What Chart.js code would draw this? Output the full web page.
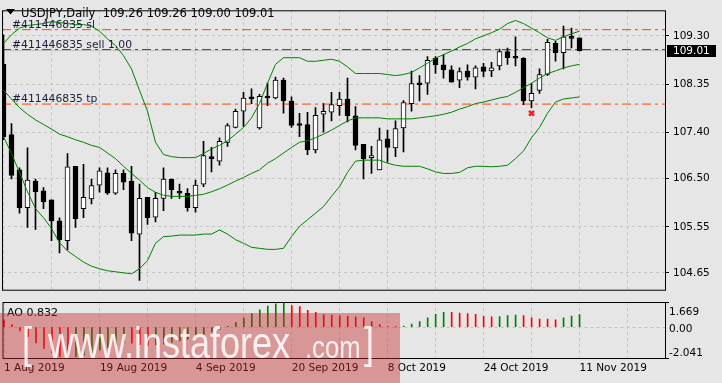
<!DOCTYPE html>
<html>
<head>
<meta charset="utf-8">
<title>USDJPY Daily</title>
<script src="https://cdn.jsdelivr.net/npm/chart.js@4.4.1/dist/chart.umd.min.js"></script>
<style>
    body { margin: 0; width: 722px; height: 383px; overflow: hidden; position: relative; background: #e6e6e6; }
    #priceChart { position: absolute; left: 0; top: 0; }
    #aoChart { position: absolute; left: 0; top: 300px; }
    #mark { position: absolute; left: 0; top: 313px; width: 400px; height: 70px; background: rgba(200, 40, 40, 0.42); color: rgba(255, 255, 255, 0.85); font-family: "Liberation Sans", sans-serif; white-space: nowrap; }
    #mark span { position: absolute; transform: scaleX(0.8); transform-origin: 0 0; }
    #mark .big { font-size: 45px; line-height: 45px; top: 7px; }
    #mark .small { font-size: 32px; line-height: 32px; top: 18px; }
</style>
</head>
<body>
<canvas id="priceChart" width="722" height="300"></canvas>
<canvas id="aoChart" width="722" height="83"></canvas>
<div id="mark"><span class="big" style="left:22px">[</span><span class="big" style="left:48px">www.instaforex</span><span class="small" style="left:305px">.com</span><span class="big" style="left:364px">]</span></div>
<script>
// --- DATA ---

const dates = [
    '1 Aug 2019', '2 Aug 2019', '5 Aug 2019', '6 Aug 2019', '7 Aug 2019', '8 Aug 2019', '9 Aug 2019',
    '12 Aug 2019', '13 Aug 2019', '14 Aug 2019', '15 Aug 2019', '16 Aug 2019', '19 Aug 2019', '20 Aug 2019',
    '21 Aug 2019', '22 Aug 2019', '23 Aug 2019', '26 Aug 2019', '27 Aug 2019', '28 Aug 2019', '29 Aug 2019',
    '30 Aug 2019', '2 Sep 2019', '3 Sep 2019', '4 Sep 2019', '5 Sep 2019', '6 Sep 2019', '9 Sep 2019',
    '10 Sep 2019', '11 Sep 2019', '12 Sep 2019', '13 Sep 2019', '16 Sep 2019', '17 Sep 2019', '18 Sep 2019',
    '19 Sep 2019', '20 Sep 2019', '23 Sep 2019', '24 Sep 2019', '25 Sep 2019', '26 Sep 2019', '27 Sep 2019',
    '30 Sep 2019', '1 Oct 2019', '2 Oct 2019', '3 Oct 2019', '4 Oct 2019', '7 Oct 2019', '8 Oct 2019',
    '9 Oct 2019', '10 Oct 2019', '11 Oct 2019', '14 Oct 2019', '15 Oct 2019', '16 Oct 2019', '17 Oct 2019',
    '18 Oct 2019', '21 Oct 2019', '22 Oct 2019', '23 Oct 2019', '24 Oct 2019', '25 Oct 2019', '28 Oct 2019',
    '29 Oct 2019', '30 Oct 2019', '31 Oct 2019', '1 Nov 2019', '4 Nov 2019', '5 Nov 2019', '6 Nov 2019',
    '7 Nov 2019', '8 Nov 2019', '11 Nov 2019'
]

const opens = [
    108.74, 107.36, 106.67, 105.93, 106.45, 106.26, 106.08, 105.67, 105.28, 106.74,
    105.91, 106.10, 106.37, 106.61, 106.21, 106.60, 106.45, 105.41, 106.13, 105.74,
    106.11, 106.49, 106.24, 106.21, 105.93, 106.39, 106.93, 106.84, 107.21, 107.50,
    107.82, 108.10, 107.49, 108.11, 108.08, 108.43, 108.02, 107.58, 107.56, 107.06,
    107.76, 107.80, 107.93, 108.06, 107.73, 107.17, 106.91, 106.67, 107.28, 107.10,
    107.49, 107.97, 108.37, 108.37, 108.86, 108.73, 108.63, 108.43, 108.61, 108.49,
    108.69, 108.61, 108.71, 108.99, 108.89, 108.86, 108.02, 108.23, 108.54, 109.15,
    108.97, 109.28, 109.26
]
const highs = [
    109.32, 107.58, 106.71, 107.10, 106.49, 106.32, 106.08, 105.73, 106.99, 106.74,
    106.78, 106.49, 106.71, 106.71, 106.67, 106.67, 106.74, 106.39, 106.13, 106.23,
    106.71, 106.49, 106.39, 106.30, 106.47, 107.23, 107.11, 107.30, 107.58, 107.86,
    108.19, 108.26, 108.15, 108.37, 108.49, 108.47, 108.10, 107.78, 107.80, 107.89,
    107.97, 108.19, 108.19, 108.47, 107.91, 107.17, 107.13, 107.49, 107.45, 107.63,
    108.03, 108.61, 108.52, 108.89, 108.89, 108.93, 108.71, 108.67, 108.73, 108.71,
    108.76, 108.78, 109.04, 109.06, 109.28, 108.87, 108.36, 108.65, 109.23, 109.19,
    109.49, 109.45, 109.26
]
const lows = [
    107.26, 106.49, 105.82, 105.54, 105.50, 105.91, 105.28, 105.04, 105.10, 105.54,
    105.73, 106.00, 106.23, 106.19, 106.19, 106.28, 105.28, 104.50, 105.60, 105.65,
    105.87, 106.11, 106.11, 105.86, 105.84, 106.34, 106.63, 106.76, 107.13, 107.49,
    107.52, 107.97, 107.47, 107.93, 108.06, 107.78, 107.50, 107.32, 106.97, 107.00,
    107.41, 107.63, 107.74, 107.61, 107.06, 106.49, 106.60, 106.67, 106.82, 106.93,
    107.02, 107.82, 108.02, 108.15, 108.56, 108.47, 108.39, 108.28, 108.43, 108.26,
    108.50, 108.50, 108.63, 108.74, 108.71, 107.95, 107.89, 108.17, 108.52, 108.80,
    108.65, 109.06, 109.00
]
const closes = [
    107.32, 106.56, 105.93, 106.47, 106.24, 106.04, 105.67, 105.30, 106.73, 105.71,
    106.13, 106.36, 106.65, 106.21, 106.60, 106.43, 105.43, 106.11, 105.73, 106.11,
    106.49, 106.28, 106.21, 105.93, 106.37, 106.95, 106.89, 107.23, 107.54, 107.82,
    108.08, 108.06, 108.11, 108.08, 108.43, 108.02, 107.54, 107.54, 107.06, 107.74,
    107.82, 107.95, 108.06, 107.73, 107.15, 106.89, 106.95, 107.26, 107.11, 107.48,
    107.99, 108.36, 108.34, 108.82, 108.73, 108.63, 108.39, 108.60, 108.49, 108.67,
    108.60, 108.67, 108.99, 108.87, 108.86, 108.02, 108.17, 108.54, 109.17, 108.97,
    109.28, 109.25, 109.01
]

const bbUpper = [
    109.15, 109.32, 109.45, 109.50, 109.52, 109.54, 109.58, 109.56, 109.54, 109.52,
    109.52, 109.49, 109.39, 109.24, 109.11, 108.91, 108.65, 108.23, 107.82, 107.21,
    106.97, 106.93, 106.91, 106.91, 106.91, 106.99, 107.08, 107.15, 107.24, 107.37,
    107.50, 107.69, 107.97, 108.37, 108.74, 108.87, 108.87, 108.87, 108.80, 108.80,
    108.82, 108.84, 108.80, 108.69, 108.56, 108.56, 108.56, 108.56, 108.54, 108.52,
    108.54, 108.58, 108.67, 108.76, 108.86, 108.93, 109.00, 109.08, 109.15, 109.24,
    109.30, 109.36, 109.43, 109.54, 109.60, 109.54, 109.45, 109.36, 109.26, 109.21,
    109.28, 109.34, 109.39
]
const bbMiddle = [
    108.23, 108.06, 107.89, 107.76, 107.65, 107.56, 107.47, 107.37, 107.32, 107.26,
    107.21, 107.15, 107.11, 107.00, 106.89, 106.74, 106.60, 106.47, 106.32, 106.23,
    106.17, 106.15, 106.15, 106.15, 106.17, 106.19, 106.24, 106.30, 106.37, 106.45,
    106.52, 106.60, 106.67, 106.80, 106.89, 107.00, 107.11, 107.21, 107.24, 107.30,
    107.37, 107.45, 107.54, 107.63, 107.69, 107.69, 107.69, 107.69, 107.67, 107.67,
    107.67, 107.67, 107.69, 107.71, 107.73, 107.76, 107.80, 107.86, 107.91, 107.97,
    108.00, 108.04, 108.08, 108.11, 108.19, 108.28, 108.37, 108.47, 108.56, 108.61,
    108.67, 108.71, 108.74
]
const bbLower = [
    107.32, 106.99, 106.62, 106.24, 105.91, 105.73, 105.52, 105.24, 105.08, 104.97,
    104.86, 104.78, 104.73, 104.69, 104.67, 104.65, 104.63, 104.73, 104.89, 105.23,
    105.36, 105.37, 105.39, 105.39, 105.39, 105.41, 105.41, 105.49, 105.41, 105.30,
    105.23, 105.15, 105.13, 105.11, 105.11, 105.13, 105.36, 105.56, 105.69, 105.82,
    105.95, 106.15, 106.34, 106.62, 106.84, 106.86, 106.86, 106.86, 106.80, 106.76,
    106.74, 106.74, 106.74, 106.69, 106.63, 106.60, 106.60, 106.62, 106.71, 106.74,
    106.74, 106.73, 106.74, 106.76, 106.89, 107.04, 107.30, 107.50, 107.78, 108.00,
    108.06, 108.08, 108.10
]

const aoValues = [
    0.49, 0.18, -0.25, -0.62, -1.05, -1.40, -1.70, -1.95, -2.041, -1.95,
    -1.85, -1.70, -1.50, -1.35, -1.20, -1.05, -1.06, -1.15, -1.20, -1.18,
    -1.10, -1.00, -0.90, -0.80, -0.65, -0.48, -0.32, -0.15, 0.05, 0.30,
    0.60, 0.90, 1.15, 1.40, 1.55, 1.669, 1.43, 1.36, 1.11, 0.99,
    0.83, 0.80, 0.76, 0.73, 0.69, 0.62, 0.37, 0.17, 0.03, 0.02,
    0.07, 0.20, 0.37, 0.62, 0.86, 0.99, 0.98, 0.94, 0.91, 0.86,
    0.72, 0.69, 0.70, 0.77, 0.81, 0.77, 0.62, 0.54, 0.53, 0.49,
    0.62, 0.74, 0.832
]

const priceTicks = [104.65, 105.55, 106.50, 107.40, 108.35, 109.30]
const aoTicks = [-2.041, 0, 1.669]

const symbolTitle = 'USDJPY,Daily'
const orderTicket = '#411446835'
const slPrice = 109.42
const sellPrice = 109.03
const sellLots = 1.00
const tpPrice = 107.96
const exitBar = 66
const exitPrice = 107.78

// --- LOOK ---

const gridColor = '#c4c4c4'
const bandColor = '#008000'
const stopColor = '#ff4500'
const orderColor = '#008000'
const aoUp = '#008000'
const aoDown = '#ff0000'
const axisFont = { family: 'DejaVu Sans', size: 10.5 }

const xMin = -0.1875
const xMax = 82.6875
const priceMin = 104.3185
const priceMax = 109.80

const last = closes.length - 1

function gridTicks(scale){
    const ticks = []
    for (let v = 0; v < xMax; v += 6) ticks.push({ value: v })
    scale.ticks = ticks
}

function points(values){
    return values.map((v, i) => ({ x: i, y: v }))
}

function levelLine(price, color, dash, order){
    return {
        type: 'line',
        data: [{ x: xMin, y: price }, { x: xMax, y: price }],
        borderColor: color,
        borderWidth: 1,
        borderDash: dash,
        pointRadius: 0,
        order: order
    }
}

function bandLine(values){
    return {
        type: 'line',
        data: points(values),
        borderColor: bandColor,
        borderWidth: 1,
        pointRadius: 0,
        tension: 0,
        order: 1
    }
}

// --- PLUGINS ---

const priceOverlay = {
    id: 'priceOverlay',
    afterDraw(chart){
        const { ctx, chartArea: a, scales: { y } } = chart
        ctx.save()

        ctx.strokeStyle = '#000'
        ctx.lineWidth = 1
        ctx.strokeRect(a.left + 0.5, a.top + 0.5, a.right - a.left, a.bottom - a.top)

        ctx.fillStyle = '#1c1c3a'
        ctx.font = '10.8px "DejaVu Sans"'
        ctx.textBaseline = 'alphabetic'
        ctx.fillText(orderTicket + ' sl', 12, y.getPixelForValue(slPrice) - 2)
        ctx.fillText(orderTicket + ' sell ' + sellLots.toFixed(2), 12, y.getPixelForValue(sellPrice) - 2)
        ctx.fillText(orderTicket + ' tp', 12, y.getPixelForValue(tpPrice) - 2)

        ctx.fillStyle = '#000'
        ctx.font = '11.5px "DejaVu Sans"'
        const ohlc = [opens[last], highs[last], lows[last], closes[last]].map(v => v.toFixed(2)).join(' ')
        ctx.fillText(symbolTitle + '  ' + ohlc, 21, 17)

        ctx.beginPath()
        ctx.moveTo(6, 9)
        ctx.lineTo(15, 9)
        ctx.lineTo(10.5, 14.5)
        ctx.closePath()
        ctx.fill()

        const py = Math.round(y.getPixelForValue(closes[last]))
        ctx.fillRect(a.right + 2, py - 6, 49, 12)
        ctx.fillStyle = '#fff'
        ctx.font = '10.5px "DejaVu Sans"'
        ctx.textBaseline = 'middle'
        ctx.fillText(closes[last].toFixed(2), a.right + 8, py + 0.5)

        ctx.restore()
    }
}

const aoOverlay = {
    id: 'aoOverlay',
    afterDraw(chart){
        const { ctx, chartArea: a, scales: { y } } = chart
        ctx.save()

        ctx.strokeStyle = '#000'
        ctx.lineWidth = 1
        ctx.strokeRect(a.left + 0.5, a.top + 0.5, a.right - a.left, a.bottom - a.top)

        ctx.fillStyle = '#000'
        ctx.textBaseline = 'alphabetic'
        ctx.font = '11px "DejaVu Sans"'
        ctx.fillText('AO ' + aoValues[last].toFixed(3), 7, a.top + 14)

        ctx.font = '10.5px "DejaVu Sans"'
        const lx = a.right + 4
        ctx.fillText(aoTicks[2].toFixed(3), lx, y.getPixelForValue(aoTicks[2]) + 13)
        ctx.fillText(aoTicks[1].toFixed(2), lx, y.getPixelForValue(aoTicks[1]) + 5)
        ctx.fillText(aoTicks[0].toFixed(3), lx, y.getPixelForValue(aoTicks[0]) - 2)

        ctx.restore()
    }
}

// --- PRICE CHART ---

new Chart(document.getElementById('priceChart'), {
    type: 'bar',
    data: {
        datasets: [
            {
                type: 'line',
                data: [{ x: exitBar, y: exitPrice }],
                showLine: false,
                pointStyle: 'crossRot',
                pointRadius: 3.5,
                pointBorderWidth: 2.5,
                pointBorderColor: '#ff1a1a',
                order: 0
            },
            bandLine(bbUpper),
            bandLine(bbMiddle),
            bandLine(bbLower),
            {
                data: opens.map((o, i) => ({ x: i, y: [o, closes[i]] })),
                backgroundColor: opens.map((o, i) => closes[i] >= o ? '#ffffff' : '#000000'),
                borderColor: '#000',
                borderWidth: 1,
                borderSkipped: false,
                barThickness: 5,
                minBarLength: 2,
                grouped: false,
                order: 2
            },
            {
                data: lows.map((l, i) => ({ x: i, y: [l, highs[i]] })),
                backgroundColor: '#000',
                borderWidth: 0,
                barThickness: 1,
                grouped: false,
                order: 3
            },
            levelLine(slPrice, stopColor, [9, 4, 3, 4], 4),
            levelLine(sellPrice, orderColor, [9, 4, 3, 4], 4),
            levelLine(tpPrice, stopColor, [9, 4, 3, 4], 4),
            levelLine(closes[last], '#c0c0c0', [], 5)
        ]
    },
    options: {
        responsive: false,
        animation: false,
        events: [],
        layout: { padding: { left: 2, top: 3, right: 0, bottom: 1 }, autoPadding: false },
        plugins: { legend: { display: false }, tooltip: { enabled: false } },
        scales: {
            x: {
                type: 'linear',
                offset: false,
                min: xMin,
                max: xMax,
                afterBuildTicks: gridTicks,
                ticks: { display: false },
                grid: { color: gridColor, drawTicks: false, offset: false },
                border: { display: false, dash: [3, 3] },
                afterFit: s => { s.height = 0 }
            },
            y: {
                type: 'linear',
                position: 'right',
                min: priceMin,
                max: priceMax,
                afterBuildTicks: s => { s.ticks = priceTicks.map(v => ({ value: v })) },
                ticks: { callback: v => v.toFixed(2), font: axisFont, color: '#000', padding: 4 },
                grid: { color: gridColor, tickColor: '#000', tickLength: 4, tickBorderDash: [] },
                border: { display: false, dash: [3, 3] },
                afterFit: s => { s.width = 57 }
            }
        }
    },
    plugins: [priceOverlay]
})

// --- AO CHART ---

new Chart(document.getElementById('aoChart'), {
    type: 'bar',
    data: {
        datasets: [{
            data: points(aoValues),
            backgroundColor: aoValues.map((v, i) => i > 0 && v > aoValues[i - 1] ? aoUp : aoDown),
            borderWidth: 0,
            barThickness: 1,
            grouped: false
        }]
    },
    options: {
        responsive: false,
        animation: false,
        events: [],
        layout: { padding: { left: 2, top: 2, right: 0, bottom: 0 }, autoPadding: false },
        plugins: { legend: { display: false }, tooltip: { enabled: false } },
        scales: {
            x: {
                type: 'linear',
                offset: false,
                min: xMin,
                max: xMax,
                afterBuildTicks: gridTicks,
                ticks: {
                    autoSkip: false,
                    maxRotation: 0,
                    align: 'start',
                    padding: 4,
                    font: axisFont,
                    color: '#000',
                    callback: v => (v % 12 === 0 && dates[v]) ? dates[v] : ''
                },
                grid: { color: gridColor, drawTicks: false, offset: false },
                border: { display: false, dash: [3, 3] },
                afterFit: s => { s.height = 25 }
            },
            y: {
                type: 'linear',
                position: 'right',
                min: aoTicks[0],
                max: aoTicks[2],
                afterBuildTicks: s => { s.ticks = aoTicks.map(v => ({ value: v })) },
                ticks: { display: false },
                grid: {
                    color: c => c.tick && c.tick.value === 0 ? gridColor : 'rgba(0,0,0,0)',
                    tickColor: c => c.tick && c.tick.value === 0 ? 'rgba(0,0,0,0)' : '#000',
                    tickLength: 4,
                    tickBorderDash: []
                },
                border: { display: false, dash: [3, 3] },
                afterFit: s => { s.width = 57 }
            }
        }
    },
    plugins: [aoOverlay]
})
</script>
</body>
</html>
